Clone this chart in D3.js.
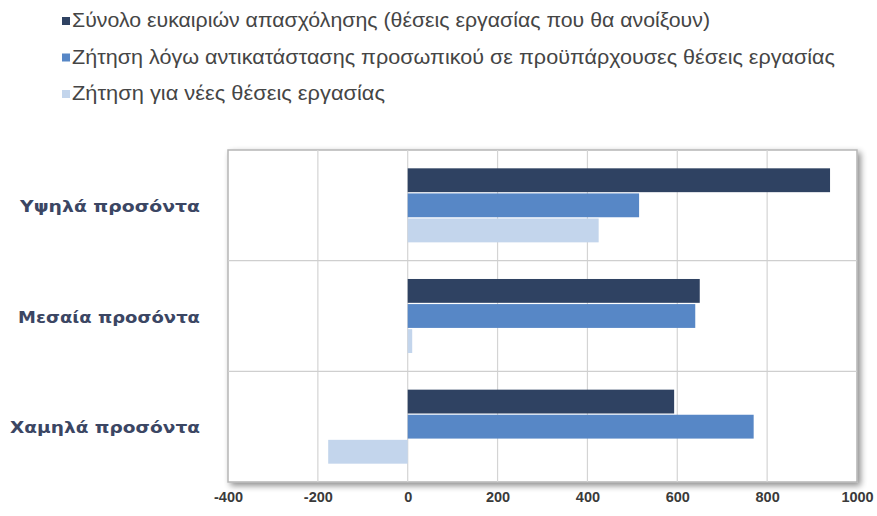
<!DOCTYPE html>
<html><head><meta charset="utf-8">
<script src="https://cdn.jsdelivr.net/npm/d3@7"></script>
<style>body{margin:0;background:#fff}</style>
</head><body>
<svg id="c" width="877" height="516"></svg>
<script>
const categories = ["Υψηλά  προσόντα", "Μεσαία προσόντα", "Χαμηλά  προσόντα"];
const seriesNames = [
  "Σύνολο ευκαιριών  απασχόλησης (θέσεις εργασίας που θα ανοίξουν)",
  "Ζήτηση  λόγω αντικατάστασης  προσωπικού  σε  προϋπάρχουσες θέσεις εργασίας",
  "Ζήτηση  για νέες θέσεις εργασίας"
];
const totalValues = [940, 650, 593];
const replacementValues = [515, 640, 770];
const newJobValues = [425, 10, -177];
const tickValues = [-400, -200, 0, 200, 400, 600, 800, 1000];
const colors = ["#2F4262", "#5787C6", "#C3D5EC"];

(function(){
const series = [totalValues, replacementValues, newJobValues];
const svg = d3.select("#c");
const L = 228, R = 857, T = 150, B = 482;

const x = d3.scaleLinear().domain([-400, 1000]).range([L, R]);
const y = d3.scaleBand().domain(categories).range([T, B]);
const inner = d3.scaleBand().domain(d3.range(3)).range([0, y.bandwidth()]).paddingOuter(0.73).paddingInner(0.05);

const defs = svg.append("defs");
const f = defs.append("filter").attr("id","sh").attr("x","-5%").attr("y","-5%").attr("width","110%").attr("height","115%");
f.append("feGaussianBlur").attr("in","SourceAlpha").attr("stdDeviation",3);
f.append("feOffset").attr("dx",3).attr("dy",3).attr("result","b");
f.append("feComponentTransfer").append("feFuncA").attr("type","linear").attr("slope",0.45);
const m = f.append("feMerge"); m.append("feMergeNode"); m.append("feMergeNode").attr("in","SourceGraphic");

svg.append("rect").attr("x", L).attr("y", T).attr("width", R-L).attr("height", B-T)
  .attr("fill","#fff").attr("stroke","#b5b5b5").attr("stroke-width",1.5).attr("filter","url(#sh)");

svg.append("g").selectAll("line").data(tickValues.slice(1,-1)).join("line")
  .attr("x1", d=>x(d)).attr("x2", d=>x(d)).attr("y1", T).attr("y2", B)
  .attr("stroke","#d4d4d4").attr("stroke-width",1.2);
svg.append("g").selectAll("line").data(categories.slice(1)).join("line")
  .attr("x1", L).attr("x2", R).attr("y1", d=>y(d)).attr("y2", d=>y(d))
  .attr("stroke","#cfcfcf").attr("stroke-width",1.2);

series.forEach((vals, si) => {
  svg.append("g").selectAll("rect").data(vals).join("rect")
    .attr("x", d => x(Math.min(0,d)))
    .attr("width", d => Math.abs(x(d)-x(0)))
    .attr("y", (d,i) => y(categories[i]) + inner(si))
    .attr("height", inner.bandwidth())
    .attr("fill", colors[si]);
});

const xa = svg.append("g").attr("transform", `translate(0,${B})`)
  .call(d3.axisBottom(x).tickValues(tickValues).tickFormat(d => String(d)).tickSize(0).tickPadding(10));
xa.select(".domain").remove();
xa.selectAll("text").attr("font-family","Liberation Sans, Arial, sans-serif").attr("font-weight","bold")
  .attr("font-size",14.5).attr("fill","#3a3a3a");

const labelW = [180, 182, 190];
svg.append("g").selectAll("text").data(categories).join("text")
  .attr("x", 200).attr("y", d => y(d) + y.bandwidth()/2 + 2)
  .attr("text-anchor","end").attr("dominant-baseline","middle")
  .attr("font-family","DejaVu Sans, sans-serif").attr("font-weight","bold").attr("font-size",16.5)
  .attr("textLength",(d,i)=>labelW[i]).attr("lengthAdjust","spacingAndGlyphs")
  .attr("fill","#3b4663").text(d=>d);

const legendW = [638, 763, 313];
const lg = svg.append("g");
seriesNames.forEach((n,i) => {
  const yy = 22 + i*36.5;
  lg.append("rect").attr("x",62).attr("y",yy-5).attr("width",8).attr("height",8).attr("fill",colors[i]);
  lg.append("text").attr("x",72).attr("y",yy).attr("dominant-baseline","middle")
    .attr("font-family","Liberation Sans, Arial, sans-serif").attr("font-size",19.5)
    .attr("textLength",legendW[i]).attr("lengthAdjust","spacingAndGlyphs")
    .attr("fill","#454545").text(n);
});
})();
</script>
</body></html>
